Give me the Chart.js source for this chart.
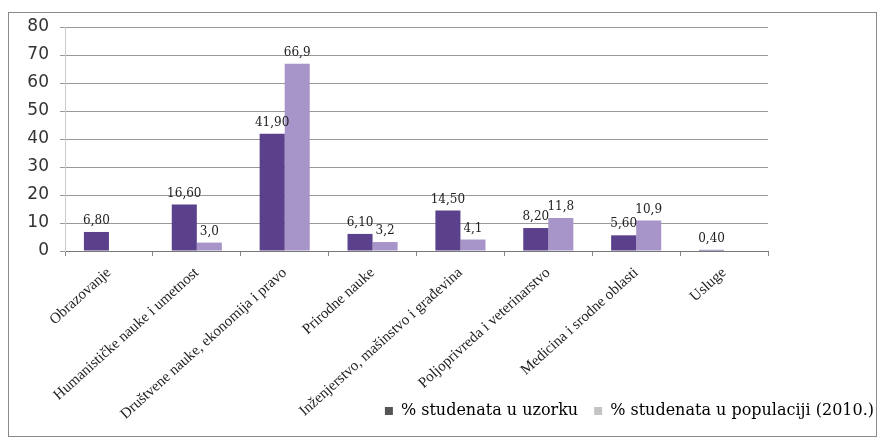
<!DOCTYPE html>
<html>
<head>
<meta charset="utf-8">
<script src="https://cdn.jsdelivr.net/npm/chart.js@4/dist/chart.umd.min.js"></script>
<style>
  body { margin: 0; background: #fff; overflow: hidden; }
  #wrap { position: absolute; left: 8px; top: 12px; width: 867px; height: 423px; border: 1px solid #8a8a8a; background: #fff; }
  #box { position: absolute; left: 0; top: 0; width: 881px; height: 423px; }
</style>
</head>
<body>
<div id="wrap"><div id="box"><canvas id="myChart"></canvas></div></div>
<script>
// podaci sa grafikona
var kategorije = ["Obrazovanje", "Humanističke nauke i umetnost", "Društvene nauke, ekonomija i pravo", "Prirodne nauke",
  "Inženjerstvo, mašinstvo i građevina", "Poljoprivreda i veterinarstvo", "Medicina i srodne oblasti", "Usluge"];
var uzorak = [6.8, 16.6, 41.9, 6.1, 14.5, 8.2, 5.6, 0.4];
var populacija = [null, 3.0, 66.9, 3.2, 4.1, 11.8, 10.9, null];
var nazivi = ["% studenata u uzorku", "% studenata u populaciji (2010.)"];
var decimale = [2, 1];
var yTicks = [0, 10, 20, 30, 40, 50, 60, 70, 80];

// natpisi iznad stubova
var vrednosti = {
  id: "vrednosti",
  afterDatasetsDraw: function (chart) {
    let ctx = chart.ctx;
    ctx.save();
    ctx.font = "12px 'DejaVu Serif'";
    ctx.fillStyle = "#222";
    ctx.textAlign = "center";
    ctx.textBaseline = "bottom";
    chart.data.datasets.forEach(function (ds, i) {
      chart.getDatasetMeta(i).data.forEach(function (bar, j) {
        let v = ds.data[j];
        if (v == null) return;
        ctx.fillText(v.toFixed(decimale[i]).replace(".", ","), bar.x, bar.y - 5);
      });
    });
    ctx.restore();
  }
};

var myChart = new Chart(document.getElementById("myChart").getContext("2d"), {
  type: "bar",
  data: {
    labels: kategorije,
    datasets: [
      { label: nazivi[0], data: uzorak, backgroundColor: "#5b408c" },
      { label: nazivi[1], data: populacija, backgroundColor: "#a794c8" }
    ]
  },
  options: {
    responsive: true,
    maintainAspectRatio: false,
    animation: false,
    datasets: { bar: { categoryPercentage: 0.57, barPercentage: 1 } },
    layout: { padding: { top: 0, bottom: 7, left: 0, right: 0 } },
    plugins: {
      tooltip: { enabled: false },
      legend: {
        position: "bottom",
        align: "end",
        labels: {
          font: { family: "'DejaVu Serif'", size: 16 },
          color: "#222",
          boxWidth: 8,
          boxHeight: 8,
          padding: 16,
          generateLabels: function (chart) {
            let sive = ["#555555", "#c4c4c4"];
            return chart.data.datasets.map(function (ds, i) {
              return { text: ds.label, fillStyle: sive[i], strokeStyle: sive[i], lineWidth: 0, datasetIndex: i };
            });
          }
        }
      }
    },
    scales: {
      x: {
        grid: { drawOnChartArea: false, drawTicks: true, tickLength: 5, color: "#888" },
        border: { color: "#777" },
        ticks: {
          autoSkip: false, minRotation: 42, maxRotation: 42, padding: 8,
          font: { family: "'Liberation Serif'", size: 15 }, color: "#222"
        },
        afterFit: function (axis) {
          axis.height = 136;
          // natpisi smeju da izađu ispod ose (kao u originalu)
          axis._computeLabelArea = function () { return undefined; };
        }
      },
      y: {
        min: 0, max: 80,
        afterBuildTicks: function (axis) { axis.ticks = yTicks.map(function (v) { return { value: v }; }); },
        grid: { color: "#999", tickLength: 5 },
        border: { color: "#ccc" },
        ticks: { padding: 11, font: { family: "'DejaVu Sans'", size: 17 }, color: "#333" },
        afterFit: function (axis) { axis.width = 56; axis.paddingTop = 14; }
      },
      y2: {
        position: "right",
        display: true,
        grid: { display: false },
        border: { display: false },
        ticks: { display: false },
        afterFit: function (axis) { axis.width = 122; }
      }
    }
  },
  plugins: [vrednosti]
});
</script>
</body>
</html>
